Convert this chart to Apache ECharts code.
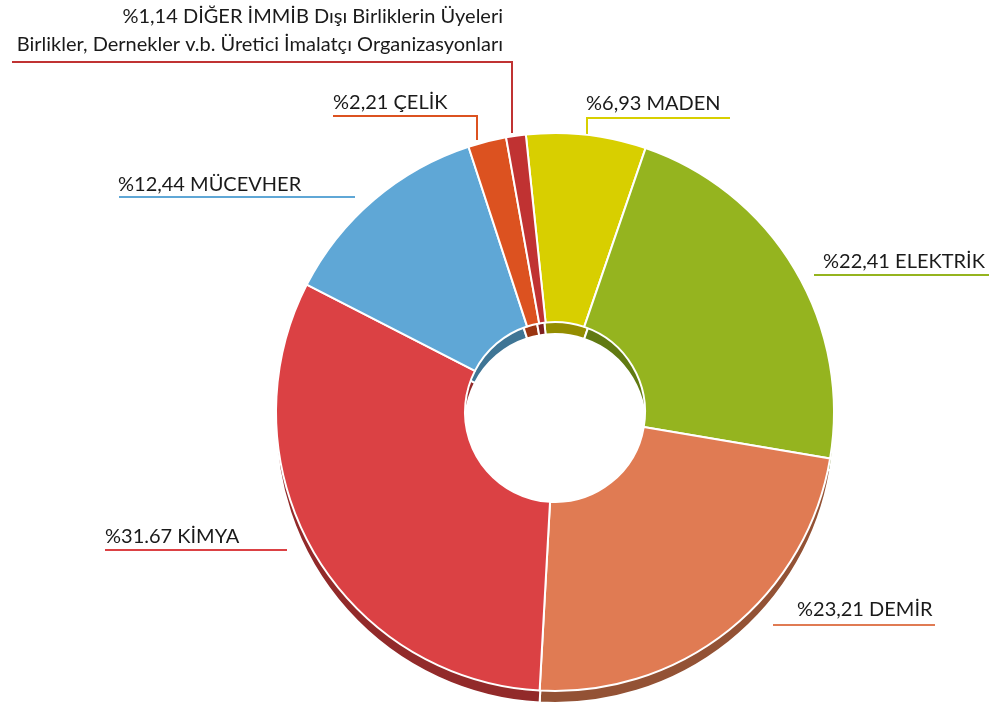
<!DOCTYPE html>
<html>
<head>
<meta charset="utf-8">
<script src="https://cdn.jsdelivr.net/npm/echarts@6/dist/echarts.min.js"></script>
<style>
  html, body { margin: 0; padding: 0; background: #fff; }
  #chart { width: 989px; height: 703px; }
</style>
</head>
<body>
<div id="chart"></div>
<script>
// sektör adları (saat yönünde, tepeden başlayarak)
var names = ['MADEN', 'ELEKTRİK', 'DEMİR', 'KİMYA', 'MÜCEVHER', 'ÇELİK',
  'DİĞER İMMİB Dışı Birliklerin Üyeleri\nBirlikler, Dernekler v.b. Üretici İmalatçı Organizasyonları'];
// yüzde değerleri
var values = [6.93, 22.41, 23.21, 31.67, 12.44, 2.21, 1.14];
// etiketlerde yazan değerler
var valueTexts = ['6,93', '22,41', '23,21', '31.67', '12,44', '2,21', '1,14'];

// renkler: üst yüz ve yan duvar
var faceColors = ['#d8cf00', '#95b41f', '#e07b53', '#db4144', '#5fa7d6', '#dc5220', '#c03232'];
var sideColors = ['#948d00', '#617a12', '#935235', '#922a2a', '#3f7595', '#9a3512', '#7e2020'];

// etiket yerleşimi (x, y, hizalama, çizgi noktaları)
var labelPlaces = [
  { x: 586, y: 104, align: 'left',  line: [[587, 134], [587, 118], [730, 118]] },
  { x: 823, y: 262, align: 'left',  line: [[814, 275], [900, 275], [989, 275]] },
  { x: 797, y: 610, align: 'left',  line: [[773, 625], [850, 625], [935, 625]] },
  { x: 105, y: 537, align: 'left',  line: [[287, 550], [200, 550], [105, 550]] },
  { x: 118, y: 185, align: 'left',  line: [[355, 197], [240, 197], [119, 197]] },
  { x: 333, y: 103, align: 'left',  line: [[477, 140], [477, 116], [333, 116]] },
  { x: 503, y: 31,  align: 'right', line: [[512, 133], [512, 62], [12, 62]] }
];

var chart = echarts.init(document.getElementById('chart'));

var frontData = [];
var backData = [];
for (var i = 0; i < names.length; i++) {
  frontData.push({ name: names[i], value: values[i], itemStyle: { color: faceColors[i] } });
  backData.push({ name: names[i], value: values[i], itemStyle: { color: sideColors[i] } });
}

chart.setOption({
  animation: false,
  series: [
    {
      // yan duvar (3B görünüm için alttaki katman)
      type: 'pie',
      silent: true,
      center: [555, 424],
      radius: [90, 279],
      startAngle: 96,
      clockwise: true,
      itemStyle: { borderColor: '#fff', borderWidth: 2 },
      label: { show: false },
      labelLine: { show: false },
      data: backData
    },
    {
      type: 'pie',
      center: [555, 412],
      radius: [90, 279],
      startAngle: 96,
      clockwise: true,
      itemStyle: { borderColor: '#fff', borderWidth: 2 },
      label: {
        show: true,
        fontFamily: 'Lato',
        fontSize: 20,
        color: '#1a1a1a',
        lineHeight: 28,
        overflow: 'none',
        formatter: function (p) {
          return '%' + valueTexts[p.dataIndex] + ' ' + p.name;
        }
      },
      labelLine: { show: true, lineStyle: { width: 2 } },
      labelLayout: function (params) {
        var lp = labelPlaces[params.dataIndex];
        return {
          x: lp.x,
          y: lp.y,
          align: lp.align,
          verticalAlign: 'middle',
          width: 600,
          labelLinePoints: lp.line
        };
      },
      emphasis: { disabled: true },
      data: frontData
    }
  ]
});
</script>
</body>
</html>
